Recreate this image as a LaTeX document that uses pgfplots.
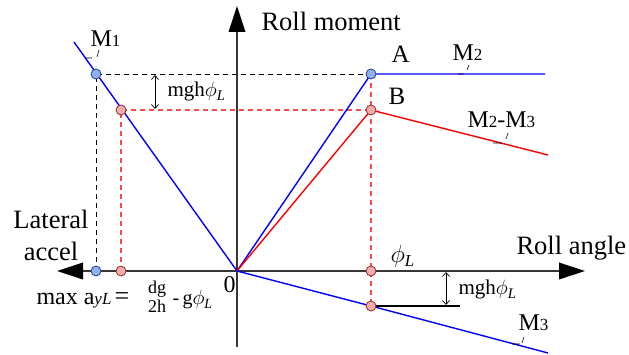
\documentclass[border=0pt]{standalone}
\usepackage{pgfplots}
\pgfplotsset{compat=1.18}
\usepackage{fontspec}
\setmainfont{Liberation Serif}
\usetikzlibrary{arrows.meta}

\definecolor{mblue}{RGB}{0,0,255}
\definecolor{mred}{RGB}{255,0,0}
\definecolor{dashred}{RGB}{250,75,75}
\definecolor{axisgray}{RGB}{55,55,55}
\definecolor{ptblue}{RGB}{140,178,242}
\definecolor{ptblueline}{RGB}{40,60,140}
\definecolor{ptred}{RGB}{242,172,172}
\definecolor{ptredline}{RGB}{150,40,40}

\newcommand\fs[1]{\fontsize{#1bp}{#1bp}\selectfont}
\newcommand\phiL{$\phi_{\mathit{L}}$}

\begin{document}
\begin{tikzpicture}
\begin{axis}[
  scale only axis, width=629bp, height=355bp,
  xmin=-237, xmax=392, ymin=-84, ymax=271,
  axis lines=none, clip=false,
  every node/.style={inner sep=0pt, outer sep=0pt},
]
% guide lines
\addplot[black, line width=0.8bp, dash pattern=on 5bp off 4bp] coordinates {(-141,0) (-141,197) (134,197)};
\addplot[dashred, line width=1.5bp, dash pattern=on 5bp off 4bp] coordinates {(-116,0) (-116,161) (134,161)};
\addplot[dashred, line width=1.5bp, dash pattern=on 5bp off 4bp] coordinates {(134,197) (134,-35)};

% axes
\draw[axisgray, line width=1.4bp] (axis cs:-160,0) -- (axis cs:328,0);
\draw[axisgray, line width=1.4bp] (axis cs:0,-76) -- (axis cs:0,245);
\fill[black] (axis cs:-180,0) -- (axis cs:-154,8.5) -- (axis cs:-154,-8.5) -- cycle;
\fill[black] (axis cs:348,0) -- (axis cs:322,8.5) -- (axis cs:322,-8.5) -- cycle;
\fill[black] (axis cs:0,265) -- (axis cs:8.5,239) -- (axis cs:-8.5,239) -- cycle;

% moment curves
\addplot[mblue, line width=1.4bp] coordinates {(-163,229) (0,0)};
\addplot[mblue, line width=1.4bp] coordinates {(0,0) (134,197) (308,197)};
\addplot[mred, line width=1.4bp] coordinates {(0,0) (134,161) (311,116)};
\addplot[mblue, line width=1.4bp] coordinates {(0,0) (134,-35) (311,-82)};
\addplot[black, line width=1.2bp] coordinates {(134,-35) (223,-35)};

% mgh phi_L spans
\draw[black, line width=0.7bp, {Straight Barb[length=4bp,width=7bp]}-{Straight Barb[length=4bp,width=7bp]}] (axis cs:-82,196) -- (axis cs:-82,162);
\draw[black, line width=0.7bp, {Straight Barb[length=4bp,width=7bp]}-{Straight Barb[length=4bp,width=7bp]}] (axis cs:209,-1) -- (axis cs:209,-34);

% points
\addplot[only marks, mark=*, mark size=5bp, mark options={fill=ptblue, draw=ptblueline, line width=0.8bp}] coordinates {(-141,197) (134,197) (-141,0)};
\addplot[only marks, mark=*, mark size=5bp, mark options={fill=ptred, draw=ptredline, line width=0.8bp}] coordinates {(-116,161) (134,161) (-116,0) (134,0) (134,-35)};

% label leaders
\draw[black, line width=0.6bp] (axis cs:-151,213) -- (axis cs:-145,213) (axis cs:-138,221) -- (axis cs:-140,214);
\draw[black, line width=0.6bp] (axis cs:221,197) -- (axis cs:227,197) (axis cs:232,206) -- (axis cs:230,201);
\draw[black, line width=0.6bp] (axis cs:256,128) -- (axis cs:265,128) (axis cs:271,138) -- (axis cs:269,132);
\draw[black, line width=0.6bp] (axis cs:275,-73) -- (axis cs:283,-73) (axis cs:287,-66) -- (axis cs:285,-72);

% labels
\node[anchor=base west] at (axis cs:21,240) {\fs{26.5}Roll moment};
\node[anchor=base west] at (axis cs:276,16) {\fs{26.5}Roll angle};
\node[anchor=base] at (axis cs:-186,42) {\fs{26.5}Lateral};
\node[anchor=base] at (axis cs:-186,10) {\fs{26.5}accel};
\node[anchor=base west] at (axis cs:-17,-22) {\fs{24}0};
\node[anchor=base west] at (axis cs:151,208) {\fs{25}A};
\node[anchor=base west] at (axis cs:148,166) {\fs{25}B};
\node[anchor=base west] at (axis cs:150,8) {\fs{24}\phiL};
\node[anchor=base west] at (axis cs:-150,224) {\fs{24}M\fs{17}1};
\node[anchor=base west] at (axis cs:212,210) {\fs{24}M\fs{17}2};
\node[anchor=base west] at (axis cs:227,143) {\fs{24}M\fs{17}2\fs{24}-M\fs{17}3};
\node[anchor=base west] at (axis cs:278,-59) {\fs{24}M\fs{17}3};
\node[anchor=base west] at (axis cs:-73,174) {\fs{21}mgh\phiL};
\node[anchor=base west] at (axis cs:218,-24) {\fs{21}mgh\phiL};
% max lateral acceleration
\node[anchor=base west] at (axis cs:-204,-34) {\fs{24}max a\fs{17}\textit{yL}};
\node[anchor=base] at (axis cs:-115,-34) {\fs{26}=};
\node[anchor=center] at (axis cs:-80,-28.5) {\fontsize{18bp}{19bp}\selectfont
  \begin{tabular}{@{}c@{}}dg\\2h\end{tabular}};
\node[anchor=base west] at (axis cs:-68,-34) {\fs{20}-\,g\phiL};
\end{axis}
\pgfresetboundingbox
\path (current axis.south west) rectangle (current axis.north east);
\end{tikzpicture}
\end{document}
